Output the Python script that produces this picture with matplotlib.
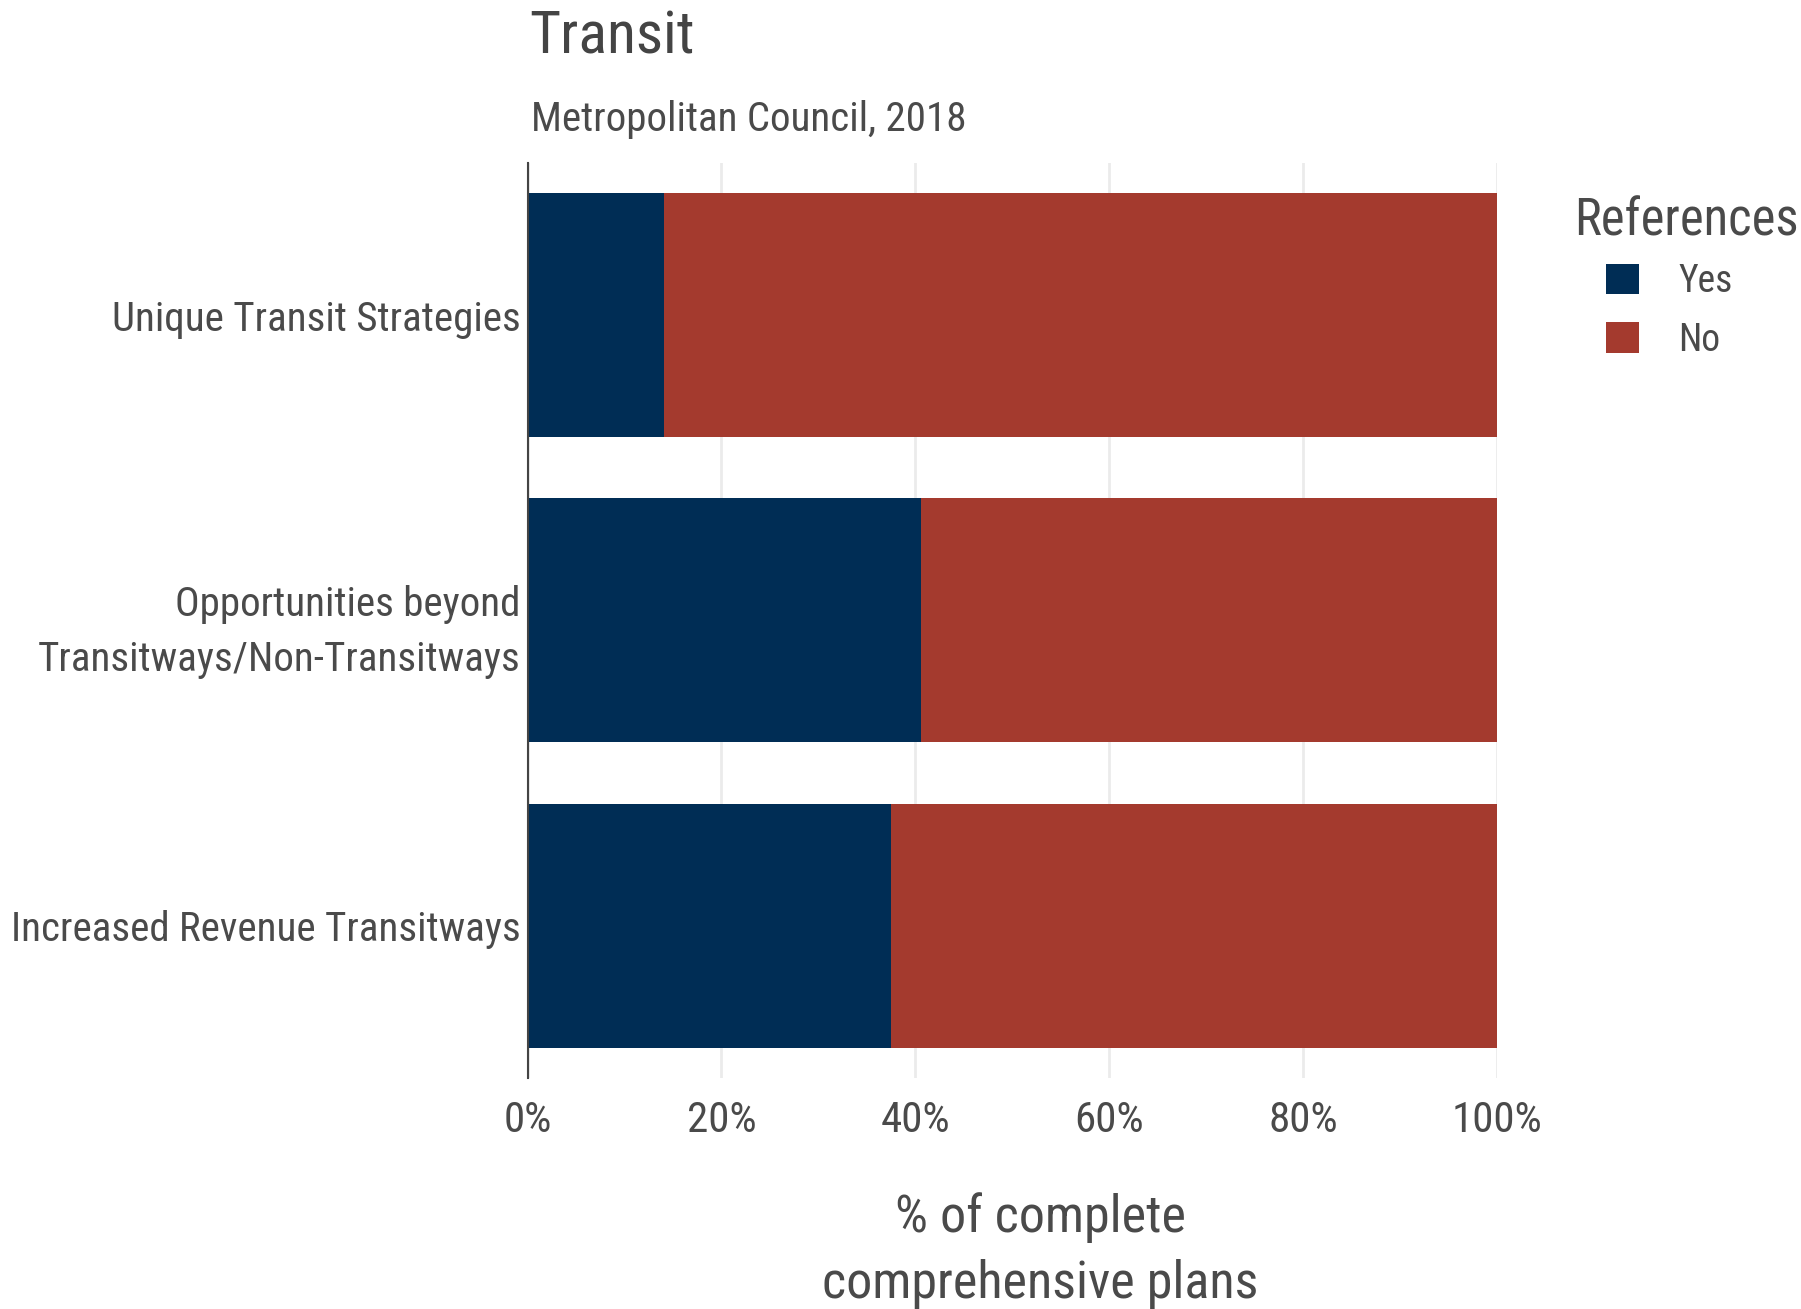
import matplotlib
matplotlib.use("Agg")
import matplotlib.pyplot as plt
from matplotlib.ticker import FixedLocator, PercentFormatter

plt.rcParams['font.family'] = ['Roboto Condensed', 'DejaVu Sans']

categories = ["Increased Revenue Transitways",
              "Opportunities beyond\nTransitways/Non-Transitways",
              "Unique Transit Strategies"]
yes_share = [0.375, 0.406, 0.141]
no_share = [1 - v for v in yes_share]
series_names = ["Yes", "No"]
colors = ["#002D55", "#A43A2E"]
x_ticks = [0, 0.2, 0.4, 0.6, 0.8, 1.0]

TXT = "#4a4a4a"
W, H = 1801, 1309
fig = plt.figure(figsize=(W/100, H/100), dpi=100)
ax = fig.add_axes([527.5/W, 1 - 1078/H, (1497-527.5)/W, (1078-163)/H])

ypos = list(range(len(categories)))
ax.barh(ypos, yes_share, height=0.8, color=colors[0], label=series_names[0], zorder=2)
ax.barh(ypos, no_share, left=yes_share, height=0.8, color=colors[1], label=series_names[1], zorder=2)

ax.set_xlim(0, 1.0)
ax.set_ylim(-0.5, 2.5)
ax.xaxis.set_major_locator(FixedLocator(x_ticks))
ax.xaxis.set_major_formatter(PercentFormatter(1.0, decimals=0))
ax.set_yticks(ypos)
ax.set_yticklabels(categories, linespacing=1.5)
ax.grid(axis='x', color='#ebebeb', linewidth=2.0, zorder=0)
ax.grid(axis='y', visible=False)
for s in ['top', 'right', 'bottom']:
    ax.spines[s].set_visible(False)
ax.spines['left'].set_color('#444444')
ax.spines['left'].set_linewidth(1.5)
ax.tick_params(axis='x', length=0, labelsize=31, labelcolor=TXT, pad=16)
ax.tick_params(axis='y', length=0, labelsize=29.5, labelcolor=TXT, pad=5)

ax.set_xlabel("% of complete\ncomprehensive plans", fontsize=37.5, color=TXT,
              labelpad=37, linespacing=1.4, x=0.529)

fig.text(529/W, 1 - 53/H, "Transit", fontsize=43, color="#444444", ha='left', va='baseline')
fig.text(531/W, 1 - 131/H, "Metropolitan Council, 2018", fontsize=29.5, color=TXT, ha='left', va='baseline')

# legend: title as separate text, keys below it
fig.text(1574/W, 1 - 235/H, "References", fontsize=36.5, color=TXT, ha='left', va='baseline')
leg = ax.legend(loc='upper left', bbox_to_anchor=(1606/W, 1 - 263/H),
                bbox_transform=fig.transFigure, frameon=False, fontsize=27,
                borderpad=0, borderaxespad=0,
                handlelength=0.88, handleheight=0.88, handletextpad=1.05, labelspacing=0.58)
plt.setp(leg.get_texts(), color=TXT)

fig.savefig("out.png", dpi=100, facecolor='white')
